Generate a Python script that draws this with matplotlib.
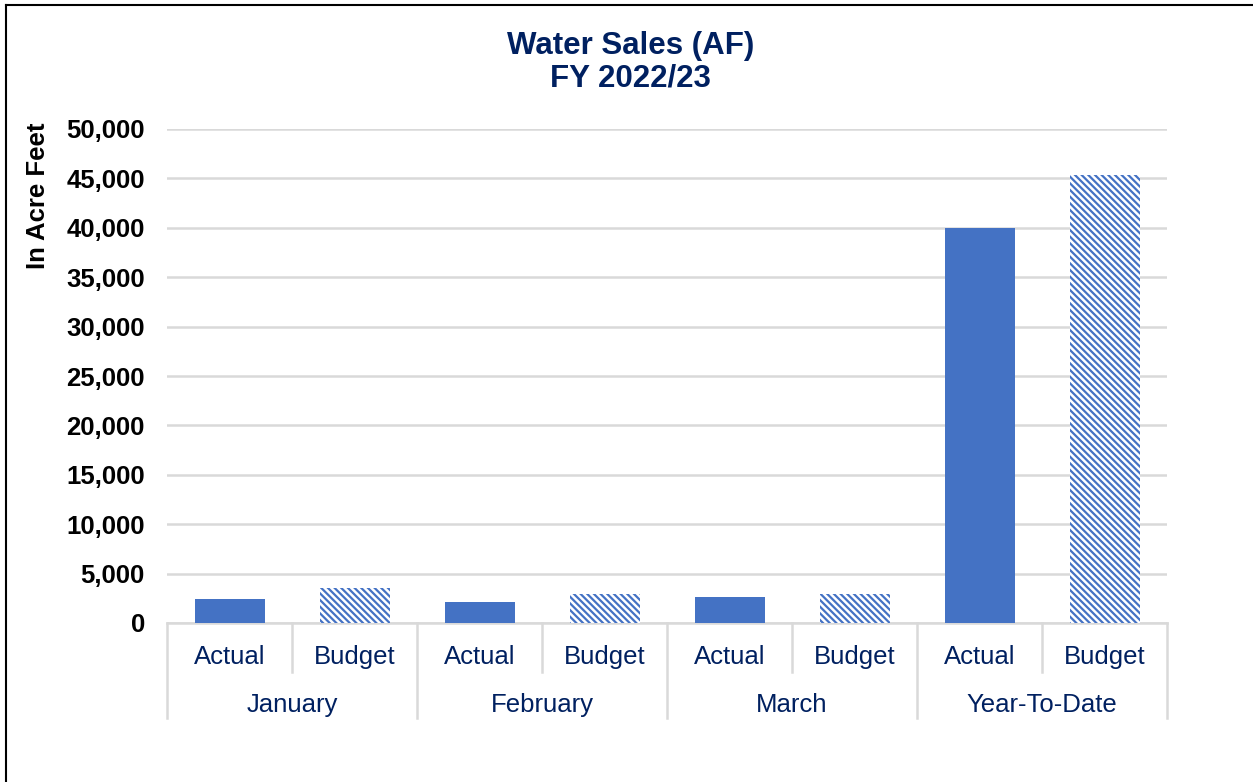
import matplotlib.pyplot as plt
from matplotlib.lines import Line2D
import numpy as np

plt.rcParams['font.family'] = ['Liberation Sans', 'DejaVu Sans']
plt.rcParams['hatch.linewidth'] = 1.6

# data (acre feet)
periods = ["January", "February", "March", "Year-To-Date"]
kinds = ["Actual", "Budget"]
actual = [2400, 2100, 2650, 40000]
budget = [3500, 2950, 2950, 45350]

blue = "#4472C4"
navy = "#002060"
grid_gray = "#D9D9D9"

fig = plt.figure(figsize=(12.53, 7.82), dpi=100)
ax = fig.add_axes([167 / 1253, 1 - 623 / 782, 1000 / 1253, 494 / 782])

x_act = np.arange(len(periods)) * 2
x_bud = x_act + 1
ax.bar(x_act, actual, width=0.56, color=blue, zorder=3)
ax.bar(x_bud, budget, width=0.56, facecolor="white", edgecolor=blue,
       linewidth=0, hatch="\\\\\\\\\\", zorder=3)

ax.set_xlim(-0.5, 2 * len(periods) - 0.5)
ax.set_ylim(0, 50000)
ax.set_yticks(np.arange(0, 50001, 5000))
ax.set_yticklabels([f"{v:,}" for v in range(0, 50001, 5000)],
                   fontsize=18.5, fontweight="bold")
ax.tick_params(axis="y", length=0, pad=16)
ax.set_xticks([])
ax.yaxis.grid(True, color=grid_gray, linewidth=1.8, zorder=0)
for s in ["left", "right", "top"]:
    ax.spines[s].set_visible(False)
ax.spines["bottom"].set_color(grid_gray)
ax.spines["bottom"].set_linewidth(1.8)

# two-level category axis
tr = ax.get_xaxis_transform()
for b in np.arange(-0.5, 2 * len(periods), 1.0):
    major = (int(b + 0.5) % 2 == 0)
    y_end = -0.192 if major else -0.099
    ax.add_line(Line2D([b, b], [0, y_end], transform=tr, color=grid_gray,
                       linewidth=1.8, clip_on=False))
for i, p in enumerate(periods):
    ax.text(x_act[i], -0.069, kinds[0], transform=tr, ha="center", va="center",
            fontsize=18.5, color=navy)
    ax.text(x_bud[i], -0.069, kinds[1], transform=tr, ha="center", va="center",
            fontsize=18.5, color=navy)
    ax.text(x_act[i] + 0.5, -0.166, p, transform=tr, ha="center", va="center",
            fontsize=18.5, color=navy)

fig.text(0.503, 1 - 62 / 782, "Water Sales (AF)\nFY 2022/23", ha="center",
         va="center", fontsize=22.5, fontweight="bold", color=navy,
         linespacing=1.1)
fig.text(38 / 1253, 1 - 196 / 782, "In Acre Feet", rotation=90, ha="center",
         va="center", fontsize=18.5, fontweight="bold")

# chart frame (left and top edges visible)
fig.add_artist(Line2D([6 / 1253, 6 / 1253], [0, 1 - 5 / 782], color="black",
                      linewidth=1.5, transform=fig.transFigure))
fig.add_artist(Line2D([6 / 1253, 1], [1 - 5 / 782, 1 - 5 / 782], color="black",
                      linewidth=1.5, transform=fig.transFigure))

fig.savefig("out.png", dpi=100)
